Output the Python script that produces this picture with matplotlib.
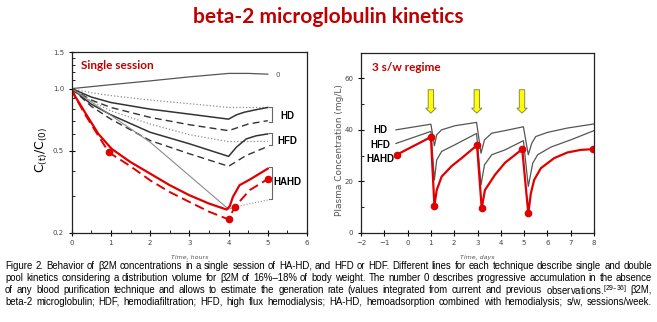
import matplotlib
matplotlib.use('Agg')
import matplotlib.pyplot as plt
from matplotlib.ticker import MultipleLocator, FixedLocator, NullFormatter

# --- Panel A: single session, C(t)/C(0) vs time in hours ---
t_zero = [0, 1, 2, 3, 4, 4.5, 5]
c_zero = [1.0, 1.045, 1.09, 1.14, 1.185, 1.185, 1.175]

hd_dot_t = [0, 0.5, 1, 2, 3, 4, 5]
hd_dot = [1.0, 0.955, 0.925, 0.88, 0.845, 0.81, 0.81]
hd_solid_t = [0, 0.5, 1, 2, 3, 4, 4.2, 4.4, 4.7, 5]
hd_solid = [1.0, 0.91, 0.856, 0.795, 0.752, 0.711, 0.746, 0.768, 0.79, 0.81]
hd_dash_t = [0, 0.5, 1, 2, 3, 4, 4.2, 4.5, 5]
hd_dash = [1.0, 0.88, 0.81, 0.725, 0.668, 0.625, 0.644, 0.673, 0.699]

hfd_dot_t = [0, 0.5, 1, 2, 3, 4, 5]
hfd_dot = [1.0, 0.87, 0.78, 0.673, 0.598, 0.553, 0.555]
hfd_solid_t = [0, 0.5, 1, 2, 3, 4, 4.2, 4.45, 4.7, 5]
hfd_solid = [1.0, 0.84, 0.746, 0.614, 0.54, 0.469, 0.52, 0.57, 0.59, 0.603]
hfd_dash_t = [0, 0.5, 1, 2, 3, 4, 4.45, 5]
hfd_dash = [1.0, 0.82, 0.711, 0.56, 0.483, 0.42, 0.474, 0.524]

thin_t = [0, 2, 4, 4.16]
thin_c = [1.0, 0.55, 0.26, 0.267]
thin_dot_t = [4.16, 5]
thin_dot_c = [0.267, 0.288]

hahd_solid_t = [0, 0.08, 0.21, 0.34, 0.68, 1.02, 1.5, 2.0, 2.5, 3.0, 3.5, 3.95,
                4.03, 4.11, 4.28, 4.54, 5.0]
hahd_solid = [1.0, 0.922, 0.841, 0.766, 0.603, 0.51, 0.44, 0.387, 0.34, 0.304, 0.277, 0.259,
              0.269, 0.298, 0.34, 0.362, 0.409]
hahd_dash_t = [0, 0.08, 0.21, 0.34, 0.68, 0.95, 1.5, 2.0, 2.5, 3.0, 3.5, 4.0, 4.16, 4.54, 5.0]
hahd_dash = [1.0, 0.915, 0.83, 0.75, 0.59, 0.49, 0.42, 0.359, 0.315, 0.282, 0.253, 0.232,
             0.267, 0.322, 0.364]
hahd_mark_t = [0.95, 4.0, 4.16, 5.0]
hahd_mark = [0.49, 0.232, 0.267, 0.364]

# brackets: (label, top, bottom, label y)
groups = [('HD', 0.81, 0.686, 0.739), ('HFD', 0.607, 0.53, 0.56), ('HAHD', 0.416, 0.293, 0.352)]

# --- Panel B: 3 sessions per week, plasma concentration vs days ---
hd_days = [-0.5, 1.0, 1.15, 1.25, 1.46, 2.03, 2.96, 3.15, 3.3, 3.61, 4.18, 4.97,
           5.18, 5.33, 5.5, 6.0, 6.86, 8.0]
hd_conc = [40.0, 42.2, 33.8, 38.1, 40.0, 41.6, 42.9, 30.9, 36.1, 38.7, 39.7, 41.2,
           30.3, 34.8, 37.4, 39.0, 40.7, 42.3]
hfd_days = [-0.5, 1.0, 1.15, 1.25, 1.46, 2.03, 2.96, 3.15, 3.3, 3.61, 4.18, 4.97,
            5.18, 5.37, 5.58, 6.15, 7.0, 8.0]
hfd_conc = [34.7, 39.4, 20.5, 28.3, 31.6, 34.2, 38.6, 18.6, 26.4, 30.3, 32.2, 35.8,
            18.0, 27.0, 30.3, 33.3, 36.1, 39.7]
hahd_days = [-0.45, 1.0, 1.15, 1.25, 1.46, 1.89, 2.32, 2.98, 3.18, 3.32, 3.75, 4.18,
             4.6, 4.92, 5.18, 5.29, 5.43, 5.72, 6.29, 6.86, 7.43, 7.96]
hahd_conc = [30.4, 37.2, 10.4, 16.6, 21.8, 25.9, 29.0, 34.0, 9.5, 16.6, 22.5, 27.2,
             30.2, 32.5, 7.5, 15.3, 20.5, 25.1, 29.0, 31.2, 32.2, 32.5]
hahd_mark_days = [-0.45, 1.0, 1.15, 2.98, 3.18, 4.92, 5.18, 7.96]
hahd_mark_conc = [30.4, 37.2, 10.4, 34.0, 9.5, 32.5, 7.5, 32.5]
session_days = [1.0, 2.97, 4.91]

red = '#e00000'
dark = '#333333'
grey = '#8c8c8c'
title_red = '#c00000'
label_font = dict(fontsize=7, fontweight='bold', family='Liberation Sans',
                  ha='center', va='center')

fig = plt.figure(figsize=(6.57, 3.22), dpi=100)

fig.text(0.5, 1 - 17 / 322, 'beta-2 microglobulin kinetics', ha='center', va='center',
         fontsize=15, fontweight='bold', color=title_red, family='Lato')

# panel A
ax1 = fig.add_axes([71.7 / 657, 1 - 232.7 / 322, 235.3 / 657, 180.4 / 322])
ax1.set_yscale('log')
ax1.plot(t_zero, c_zero, color='#555555', lw=0.9)
ax1.plot(hd_dot_t, hd_dot, color=grey, lw=0.9, ls=':')
ax1.plot(hd_solid_t, hd_solid, color=dark, lw=1.1)
ax1.plot(hd_dash_t, hd_dash, color=dark, lw=1.0, ls=(0, (5, 3)))
ax1.plot(hfd_dot_t, hfd_dot, color=grey, lw=0.9, ls=':')
ax1.plot(hfd_solid_t, hfd_solid, color=dark, lw=1.1)
ax1.plot(hfd_dash_t, hfd_dash, color=dark, lw=1.0, ls=(0, (5, 3)))
ax1.plot(thin_t, thin_c, color=grey, lw=0.8)
ax1.plot(thin_dot_t, thin_dot_c, color=grey, lw=0.8, ls=':')
ax1.plot(hahd_solid_t, hahd_solid, color=red, lw=1.6)
ax1.plot(hahd_dash_t, hahd_dash, color=red, lw=1.4, ls=(0, (5, 2.5)))
ax1.plot(hahd_mark_t, hahd_mark, 'o', color=red, ms=4.5, ls='none')

ax1.text(5.25, 1.164, '0', fontsize=5, color='#555555', ha='center', va='center')
for name, top, bottom, ylab in groups:
    ax1.plot([5.04, 5.11, 5.11, 5.04], [top, top, bottom, bottom], color='#666666', lw=0.8)
    ax1.text(5.5, ylab, name, **label_font)

ax1.text(0.24, 1.30, 'Single session', fontsize=8.5, fontweight='bold', color=title_red,
         family='Lato', va='center')

ax1.set_xlim(0, 6)
ax1.set_ylim(0.2, 1.5)
ax1.yaxis.set_major_locator(FixedLocator([0.2, 0.5, 1.0, 1.5]))
ax1.set_yticklabels(['0.2', '0.5', '1.0', '1.5'])
ax1.yaxis.set_minor_locator(FixedLocator([0.3, 0.4, 0.6, 0.7, 0.8, 0.9, 1.1, 1.2, 1.3, 1.4]))
ax1.yaxis.set_minor_formatter(NullFormatter())
ax1.xaxis.set_major_locator(MultipleLocator(1))
ax1.xaxis.set_minor_locator(MultipleLocator(0.5))

# panel B
ax2 = fig.add_axes([361 / 657, 1 - 232.7 / 322, 233 / 657, 180 / 322])
ax2.plot(hd_days, hd_conc, color='#555555', lw=0.9)
ax2.plot(hfd_days, hfd_conc, color='#555555', lw=0.9)
ax2.plot(hahd_days, hahd_conc, color=red, lw=1.6)
ax2.plot(hahd_mark_days, hahd_mark_conc, 'o', color=red, ms=4.5, ls='none')
for d in session_days:
    ax2.arrow(d, 55.6, 0, -9.1, width=0.23, head_width=0.45, head_length=1.95,
              length_includes_head=True, fc='#ffff00', ec='#8a8a50', lw=0.7, zorder=5)

ax2.text(-1.18, 40.0, 'HD', **label_font)
ax2.text(-1.18, 34.2, 'HFD', **label_font)
ax2.text(-1.18, 28.6, 'HAHD', **label_font)
ax2.text(-1.53, 64.2, '3 s/w regime', fontsize=8.5, fontweight='bold', color=title_red,
         family='Lato', va='center')

ax2.set_xlim(-2, 8)
ax2.set_ylim(0, 70)
ax2.xaxis.set_major_locator(MultipleLocator(1))
ax2.yaxis.set_major_locator(FixedLocator([0, 20, 40, 60]))
ax2.yaxis.set_minor_locator(MultipleLocator(10))

for ax in (ax1, ax2):
    ax.tick_params(which='major', direction='inout', length=4, width=0.8,
                   labelsize=5, labelcolor='#444444')
    ax.tick_params(which='minor', direction='in', length=2, width=0.6)
    for s in ax.spines.values():
        s.set_linewidth(0.9)
        s.set_color('#222222')

# axis titles
fig.text(42 / 657, 1 - 150 / 322, r'$\mathregular{C_{(t)}/C_{(0)}}$', rotation=90,
         ha='center', va='center', fontsize=9)
fig.text(340 / 657, 1 - 150 / 322, 'Plasma Concentration (mg/L)', rotation=90,
         ha='center', va='center', fontsize=6.5, color='#555555')
fig.text(190 / 657, 1 - 258 / 322, 'Time, hours', ha='center', va='center',
         fontsize=4.5, color='#555555', style='italic')
fig.text(477 / 657, 1 - 258 / 322, 'Time, days', ha='center', va='center',
         fontsize=4.5, color='#555555', style='italic')

# caption, justified line by line
caption = [
    'Figure 2. Behavior of β2M concentrations in a single session of HA-HD, and HFD or HDF. '
    'Different lines for each technique describe single and double',
    'pool kinetics considering a distribution volume for β2M of 16%–18% of body weight. '
    'The number 0 describes progressive accumulation in the absence',
    'of any blood purification technique and allows to estimate the generation rate '
    '(values integrated from current and previous observations.$^{\\mathregular{[29–36]}}$ β2M,',
    'beta-2 microglobulin; HDF, hemodiafiltration; HFD, high flux hemodialysis; '
    'HA-HD, hemoadsorption combined with hemodialysis; s/w, sessions/week.',
]
x_left, x_right = 5, 652
renderer = fig.canvas.get_renderer()
for i, line in enumerate(caption):
    y = 1 - (266 + 12 * i) / 322
    words = line.split(' ')
    texts = [fig.text(0, y, w, fontsize=6.9, family='Liberation Sans', va='center')
             for w in words]
    widths = [t.get_window_extent(renderer).width for t in texts]
    gap = (x_right - x_left - sum(widths)) / (len(words) - 1)
    x = x_left
    for t, w in zip(texts, widths):
        t.set_x(x / 657)
        x += w + gap

fig.savefig('out.png', dpi=100)
